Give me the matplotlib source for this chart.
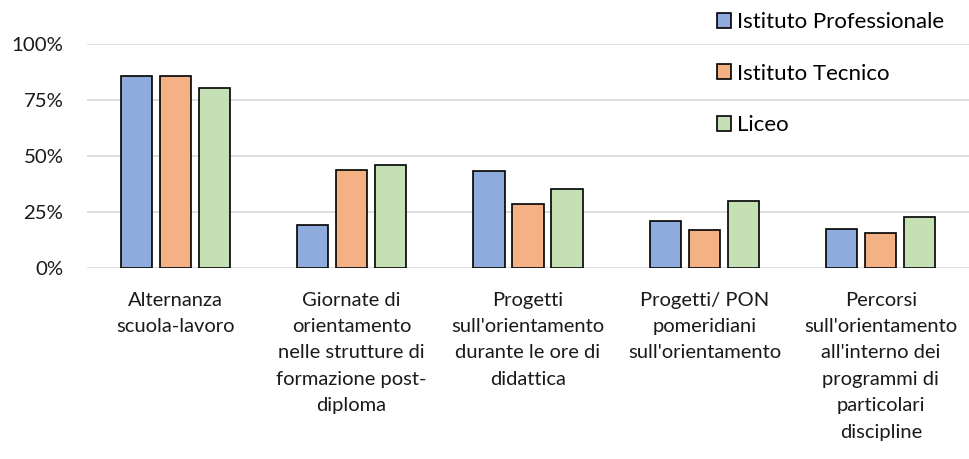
import numpy as np
import matplotlib.pyplot as plt

categories = [
    "Alternanza\nscuola-lavoro",
    "Giornate di\norientamento\nnelle strutture di\nformazione post-\ndiploma",
    "Progetti\nsull'orientamento\ndurante le ore di\ndidattica",
    "Progetti/ PON\npomeridiani\nsull'orientamento",
    "Percorsi\nsull'orientamento\nall'interno dei\nprogrammi di\nparticolari\ndiscipline",
]
series = ["Istituto Professionale", "Istituto Tecnico", "Liceo"]
professionale = [0.855, 0.192, 0.431, 0.211, 0.174]
tecnico = [0.859, 0.436, 0.284, 0.171, 0.158]
liceo = [0.803, 0.460, 0.353, 0.297, 0.226]
colors = ["#8FAADC", "#F4B183", "#C5E0B4"]

plt.rcParams['font.family'] = ['Lato', 'DejaVu Sans']

fig = plt.figure(figsize=(9.7, 4.59), dpi=100)
ax = fig.add_axes([87 / 970, 1 - 268 / 459, 882 / 970, 224 / 459])

x = np.arange(len(categories))
step = 0.221
width = 0.176
for j, (vals, name) in enumerate(zip([professionale, tecnico, liceo], series)):
    ax.bar(x + (j - 1) * step, vals, width, color=colors[j], edgecolor='black',
           linewidth=1.2, label=name, zorder=3)

ax.set_xlim(-0.5, len(categories) - 0.5)
ax.set_ylim(0, 1.0)
ax.set_yticks([0, 0.25, 0.5, 0.75, 1.0])
ax.set_yticklabels(["0%", "25%", "50%", "75%", "100%"])
ax.set_xticks(x)
ax.set_xticklabels(categories, linespacing=1.67)
ax.tick_params(axis='y', length=0, pad=17, labelsize=14.7, colors='#1a1a1a')
ax.tick_params(axis='x', length=0, pad=17, labelsize=14.5, colors='#1a1a1a')
ax.grid(axis='y', color='#d9d9d9', linewidth=1.2, zorder=0)
for s in ax.spines.values():
    s.set_visible(False)

ax.legend(loc='upper left', bbox_to_anchor=(717 / 970, 1 - 12 / 459),
          bbox_transform=fig.transFigure, frameon=False, fontsize=16,
          handlelength=0.64, handleheight=0.64, handletextpad=0.25,
          labelspacing=1.42, borderaxespad=0, borderpad=0)

fig.savefig("out.png", dpi=100)
